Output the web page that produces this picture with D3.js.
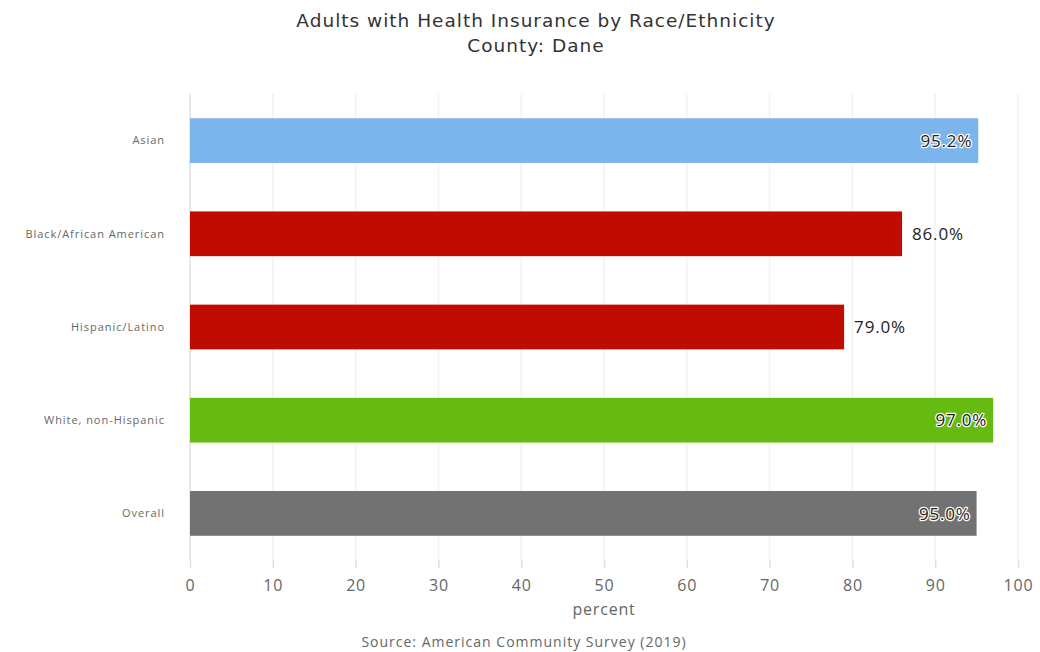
<!DOCTYPE html>
<html><head><meta charset="utf-8">
<script src="https://cdn.jsdelivr.net/npm/d3@7"></script>
<style>body{margin:0;background:#fff;}svg{display:block;}</style>
</head><body>
<svg id="c" width="1040" height="652"></svg>
<script>
const categories = ["Asian","Black/African American","Hispanic/Latino","White, non-Hispanic","Overall"];
const values = [95.2, 86.0, 79.0, 97.0, 95.0];
const colors = ["#7cb5ec","#c00c00","#c00c00","#66bb11","#727272"];
const labelInside = [true,false,false,true,true];
const xTicks = [0,10,20,30,40,50,60,70,80,90,100];
const title = "Adults with Health Insurance by Race/Ethnicity";
const subtitle = "County: Dane";
const xTitle = "percent";
const source = "Source: American Community Survey (2019)";

const svg = d3.select("#c");
const m = {left:190, right:1018, top:94, bottom:560};
const x = d3.scaleLinear().domain([0,100]).range([m.left, m.right]);
const y = d3.scaleBand().domain(categories).range([m.top, m.bottom]).paddingInner(0.52).paddingOuter(0.26);

const font = "'DejaVu Sans', sans-serif";
const sans = "'Open Sans', sans-serif";
svg.append("text").attr("x",536).attr("y",27).attr("text-anchor","middle")
  .attr("font-family",font).attr("font-size",18.5).attr("letter-spacing",1).attr("fill","#333").text(title);
svg.append("text").attr("x",536).attr("y",52).attr("text-anchor","middle")
  .attr("font-family",font).attr("font-size",18.5).attr("letter-spacing",1).attr("fill","#333").text(subtitle);

// gridlines
svg.append("g").selectAll("line").data(xTicks).join("line")
  .attr("x1",d=>x(d)).attr("x2",d=>x(d)).attr("y1",m.top).attr("y2",m.bottom)
  .attr("stroke",d=>d===0?"#e0e0e0":"#f2f2f2").attr("stroke-width",1.5);

// x axis
const xa = svg.append("g").attr("transform",`translate(0,${m.bottom})`)
  .call(d3.axisBottom(x).tickValues(xTicks).tickSize(8).tickPadding(12));
xa.select(".domain").remove();
xa.selectAll(".tick line").attr("stroke","#e0e0e0").attr("stroke-width",1.5);
xa.selectAll(".tick text").attr("font-family",sans).attr("font-size",16).attr("letter-spacing",0.8).attr("fill","#666");

svg.append("text").attr("x",604).attr("y",615).attr("text-anchor","middle")
  .attr("font-family",sans).attr("font-size",16).attr("letter-spacing",0.8).attr("fill","#666").text(xTitle);
svg.append("text").attr("x",524).attr("y",647).attr("text-anchor","middle")
  .attr("font-family",sans).attr("font-size",14).attr("letter-spacing",1).attr("fill","#666").text(source);

// y labels
svg.append("g").selectAll("text").data(categories).join("text")
  .attr("x",165).attr("y",d=>y(d)+y.bandwidth()/2).attr("dy","0.35em").attr("text-anchor","end")
  .attr("font-family",sans).attr("font-size",11).attr("letter-spacing",0.95).attr("fill","#666").text(d=>d);

// bars
svg.append("g").selectAll("rect").data(categories).join("rect")
  .attr("x",x(0)).attr("y",d=>y(d)).attr("width",(d,i)=>x(values[i])-x(0))
  .attr("height",y.bandwidth()).attr("fill",(d,i)=>colors[i]);

// labels
const lg = svg.append("g");
categories.forEach((c,i)=>{
  const inside = labelInside[i];
  const t = lg.append("text")
    .attr("x", inside ? x(values[i]) - 6 : x(values[i]) + 10)
    .attr("y", y(c)+y.bandwidth()/2).attr("dy","0.36em")
    .attr("text-anchor", inside ? "end" : "start")
    .attr("font-family",sans).attr("font-size",17).attr("letter-spacing",0.8)
    .attr("fill","#222").text(values[i].toFixed(1)+"%");
  if (inside) t.attr("stroke","#fff").attr("stroke-width",2.5).attr("paint-order","stroke").attr("stroke-linejoin","round");
});
</script>
</body></html>
